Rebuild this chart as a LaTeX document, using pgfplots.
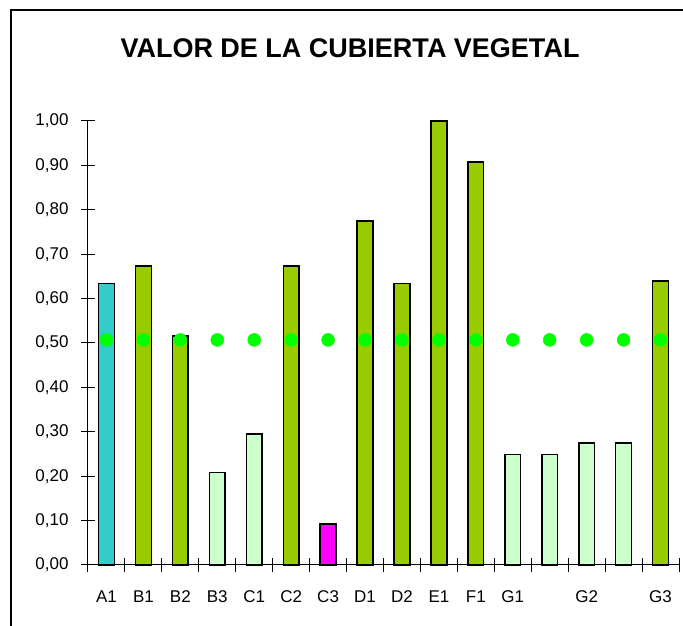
\documentclass[border=0pt]{standalone}
\usepackage{fontspec}
\setmainfont{Liberation Sans}
\usepackage{pgfplots}
\pgfplotsset{compat=1.18}

\definecolor{cyanbar}{RGB}{51,204,204}
\definecolor{olivebar}{RGB}{153,204,0}
\definecolor{palebar}{RGB}{204,255,204}
\definecolor{magbar}{RGB}{255,0,255}
\definecolor{dotgreen}{RGB}{0,255,0}

\begin{document}
\begin{tikzpicture}
% page = 683 x 626 px, 1px = 1pt
\path[use as bounding box] (0pt,0pt) rectangle (683pt,626pt);
\draw[line width=1.2pt] (11pt,0pt) -- (11pt,616pt) -- (690pt,616pt);
\node[font=\fontsize{27}{32}\selectfont\bfseries] at (350pt,578pt) {VALOR DE LA CUBIERTA VEGETAL};

\begin{axis}[
    at={(88pt,61pt)}, anchor=south west,
    scale only axis,
    width=591pt, height=444pt,
    xmin=-0.5, xmax=15.5,
    ymin=0, ymax=1,
    axis x line*=bottom,
    axis y line*=left,
    axis line style={line width=1pt},
    tick align=center,
    major tick length=14pt,
    tick style={black, line width=1pt},
    xtick={-0.5,0.5,...,15.5},
    xticklabels={},
    extra x ticks={0,1,...,15},
    extra x tick labels={A1,B1,B2,B3,C1,C2,C3,D1,D2,E1,F1,G1,,G2,,G3},
    extra x tick style={major tick length=0pt},
    ytick distance=0.1,
    /pgf/number format/use comma,
    /pgf/number format/fixed,
    /pgf/number format/fixed zerofill,
    /pgf/number format/precision=2,
    /pgf/number format/assume math mode=true,
    ticklabel style={font=\fontsize{17}{20}\selectfont},
    xticklabel style={yshift=-22pt},
    yticklabel style={xshift=-9pt},
    clip=false,
]
    \addplot[ybar, bar width=15.7pt, fill=cyanbar, draw=black, line width=1.5pt]
        coordinates {(0,0.634)};
    \addplot[ybar, bar width=15.7pt, fill=olivebar, draw=black, line width=1.5pt]
        coordinates {(1,0.673) (2,0.516) (5,0.673) (7,0.775) (8,0.634) (9,1.00) (10,0.908) (15,0.640)};
    \addplot[ybar, bar width=15.7pt, fill=palebar, draw=black, line width=1.5pt]
        coordinates {(3,0.208) (4,0.295) (11,0.249) (12,0.249) (13,0.275) (14,0.275)};
    \addplot[ybar, bar width=15.7pt, fill=magbar, draw=black, line width=1.5pt]
        coordinates {(6,0.092)};
    % reference level
    \addplot[only marks, mark=*, mark size=6.5pt, dotgreen, mark options={draw=dotgreen, fill=dotgreen}]
        coordinates {(0,0.507) (1,0.507) (2,0.507) (3,0.507) (4,0.507) (5,0.507) (6,0.507) (7,0.507)
                     (8,0.507) (9,0.507) (10,0.507) (11,0.507) (12,0.507) (13,0.507) (14,0.507) (15,0.507)};
\end{axis}
\end{tikzpicture}
\end{document}
